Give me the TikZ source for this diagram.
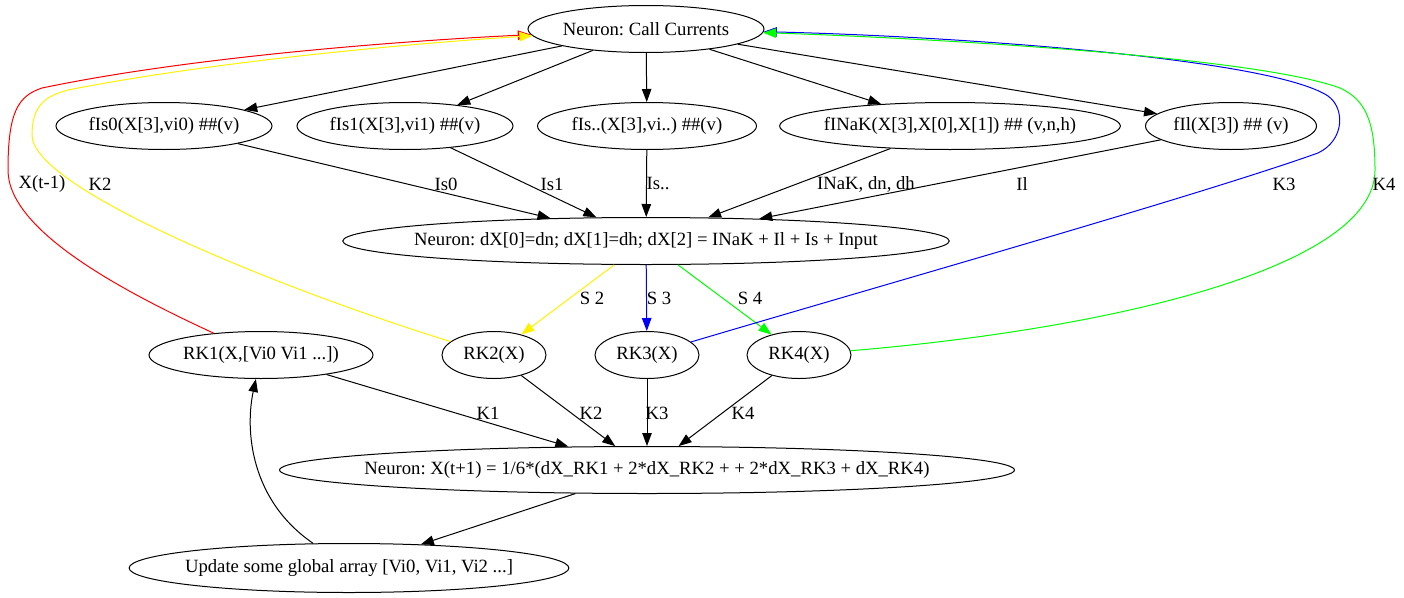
\documentclass[tikz,border=0pt]{standalone}
\usepackage{fontspec}
\setmainfont{Liberation Serif}
\usetikzlibrary{shapes.geometric,arrows.meta}
\frenchspacing
\begin{document}
\begin{tikzpicture}[x=1pt,y=-1pt,line width=1pt,
  st/.style={draw,ellipse,inner sep=0pt,minimum height=47pt},
  lbl/.style={inner sep=0pt},
  every node/.style={font=\fontsize{18.7}{22}\selectfont},
  >={Triangle[length=13pt,width=9.5pt]}]
\useasboundingbox (0,0) rectangle (1404,597);
\node[st,minimum width=236] (CC) at (646,29) {Neuron: Call Currents};
\node[st,minimum width=216] (fIsA) at (164,126) {fIs0(X[3],vi0) \#\#(v)};
\node[st,minimum width=216] (fIsB) at (405,126) {fIs1(X[3],vi1) \#\#(v)};
\node[st,minimum width=219] (fIsC) at (647,126) {fIs..(X[3],vi..) \#\#(v)};
\node[st,inner xsep=-5.6pt] (fINaK) at (950,126) {fINaK(X[3],X[0],X[1]) \#\# (v,n,h)};
\node[st,minimum width=171] (fIl) at (1231,126) {fIl(X[3]) \#\# (v)};
\node[st,inner xsep=-17.4pt] (dX) at (646,241) {Neuron: dX[0]=dn; dX[1]=dh; dX[2] = INaK + Il + Is + Input};
\node[st,minimum width=224] (RKa) at (261,355) {RK1(X,[Vi0 Vi1 ...])};
\node[st,minimum width=104] (RKb) at (494,355) {RK2(X)};
\node[st,minimum width=104] (RKc) at (647,355) {RK3(X)};
\node[st,minimum width=104] (RKd) at (799,355) {RK4(X)};
\node[st,inner xsep=-22.7pt] (Fin) at (647,470) {Neuron: X(t+1) = 1/6*(dX\_RK1 + 2*dX\_RK2 + + 2*dX\_RK3 + dX\_RK4)};
\node[st,inner xsep=-8.5pt,minimum height=49] (Upd) at (349,568) {Update some global array [Vi0, Vi1, Vi2 ...]};
\foreach \f in {fIsA,fIsB,fIsC,fINaK,fIl} \draw[->] (CC) -- (\f);
\draw[->] (fIsA) -- (dX) node[lbl] at (446,184) {Is0};
\draw[->] (fIsB) -- (dX) node[lbl] at (552,184) {Is1};
\draw[->] (fIsC) -- (dX) node[lbl] at (658,184) {Is..};
\draw[->] (fINaK) -- (dX) node[lbl] at (866,184) {INaK, dn, dh};
\draw[->] (fIl) -- (dX) node[lbl] at (1022,184) {Il};
\draw[->,yellow] (dX) -- (RKb) node[lbl,black] at (592,298) {S 2};
\draw[->,blue] (dX) -- (RKc) node[lbl,black] at (659,298) {S 3};
\draw[->,green] (dX) -- (RKd) node[lbl,black] at (750,298) {S 4};
\draw[->] (RKa) -- (Fin) node[lbl] at (488,413) {K1};
\draw[->] (RKb) -- (Fin) node[lbl] at (591,413) {K2};
\draw[->] (RKc) -- (Fin) node[lbl] at (657,413) {K3};
\draw[->] (RKd) -- (Fin) node[lbl] at (743,413) {K4};
\draw[->] (Fin) -- (Upd);
\draw[->] (Upd) .. controls (250,500) and (245,430) .. (RKa);
% feedback to the current calls
\draw[->,red] (RKa) .. controls (120,290) and (8,230) .. (8,170) .. controls (8,112) and (18,96) .. (42,88) .. controls (200,55) and (420,40) .. (CC);
\draw[->,yellow] (RKb) .. controls (290,292) and (32,190) .. (32,135) .. controls (32,106) and (45,96) .. (68,90) .. controls (220,60) and (430,42) .. (CC);
\draw[->,blue] (RKc) .. controls (900,280) and (1200,195) .. (1318,153) .. controls (1345,140) and (1345,108) .. (1328,96) .. controls (1270,58) and (950,36) .. (CC);
\draw[->,green] (RKd) .. controls (1100,330) and (1375,270) .. (1375,170) .. controls (1375,122) and (1366,100) .. (1340,88) .. controls (1250,55) and (900,37) .. (CC);
\node[lbl] at (42,184) {X(t-1)};
\node[lbl] at (100,184) {K2};
\node[lbl] at (1284,184) {K3};
\node[lbl] at (1384,184) {K4};
\end{tikzpicture}
\end{document}
